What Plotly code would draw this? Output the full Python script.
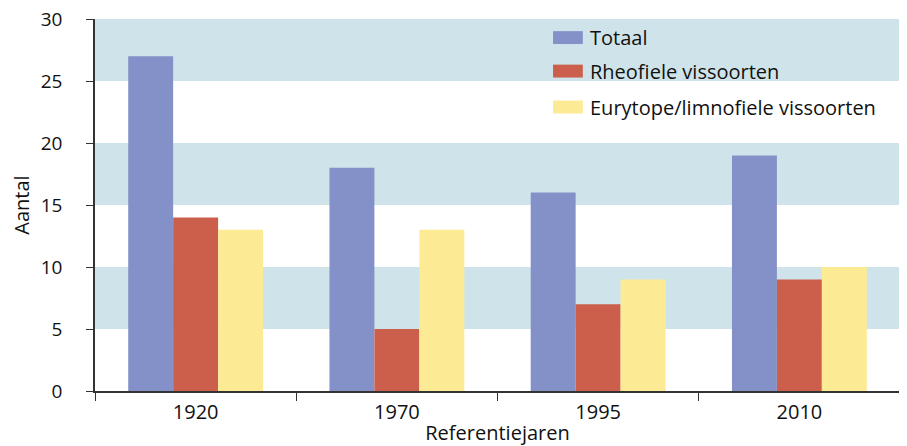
import plotly.graph_objects as go

categories = ["1920", "1970", "1995", "2010"]
totaal = [27, 18, 16, 19]
rheofiel = [14, 5, 7, 9]
eurytoop = [13, 13, 9, 10]
series_names = ["Totaal", "Rheofiele vissoorten", "Eurytope/limnofiele vissoorten"]
colors = ["#8391C8", "#CB5F4B", "#FDEA94"]
y_ticks = [0, 5, 10, 15, 20, 25, 30]
bands = [(5, 10), (15, 20), (25, 30)]

FONT = "Open Sans"
fig = go.Figure()
for name, vals, col in zip(series_names, [totaal, rheofiel, eurytoop], colors):
    fig.add_trace(go.Bar(x=categories, y=vals, name=name, marker_color=col,
                         marker_line_width=0, showlegend=False))

shapes = []
for lo, hi in bands:
    shapes.append(dict(type="rect", xref="paper", yref="y", x0=0, x1=1, y0=lo, y1=hi,
                       fillcolor="#CFE4EA", line_width=0, layer="below"))

# custom legend
legend_y = [28.5, 25.8, 22.9]
annotations = []
for name, col, yy in zip(series_names, colors, legend_y):
    shapes.append(dict(type="rect", xref="paper", yref="y", x0=0.569, x1=0.606,
                       y0=yy - 0.52, y1=yy + 0.52, fillcolor=col, line_width=0))
    annotations.append(dict(x=0.612, y=yy, xref="paper", yref="y", text=name, showarrow=False,
                            xanchor="left", yanchor="middle",
                            font=dict(family=FONT, size=20, color="#111")))

# the page body has an 8px margin, so the figure is sized/offset to compensate
fig.update_layout(
    width=899, height=438,
    margin=dict(l=87, r=7, t=11, b=55),
    plot_bgcolor="white", paper_bgcolor="white",
    barmode="group", bargap=0.33, bargroupgap=0,
    shapes=shapes, annotations=annotations,
    font=dict(family=FONT, size=19, color="#111"),
    xaxis=dict(type="category", tickson="boundaries", ticks="outside", ticklen=8,
               tickcolor="#333", showline=True, linecolor="#333", linewidth=1.5,
               showgrid=False, automargin=False, ticklabelstandoff=2,
               tickfont=dict(size=20),
               title=dict(text="Referentiejaren", standoff=8, font=dict(size=20))),
    yaxis=dict(range=[0, 30], tickvals=y_ticks, ticks="outside", ticklen=7,
               tickcolor="#333", showline=True, linecolor="#333", linewidth=1.5,
               showgrid=False, zeroline=False, ticklabelstandoff=20, automargin=False,
               ticklabeloverflow="allow",
               title=dict(text="Aantal", standoff=13, font=dict(size=20))),
)
fig.write_html("out.html")
